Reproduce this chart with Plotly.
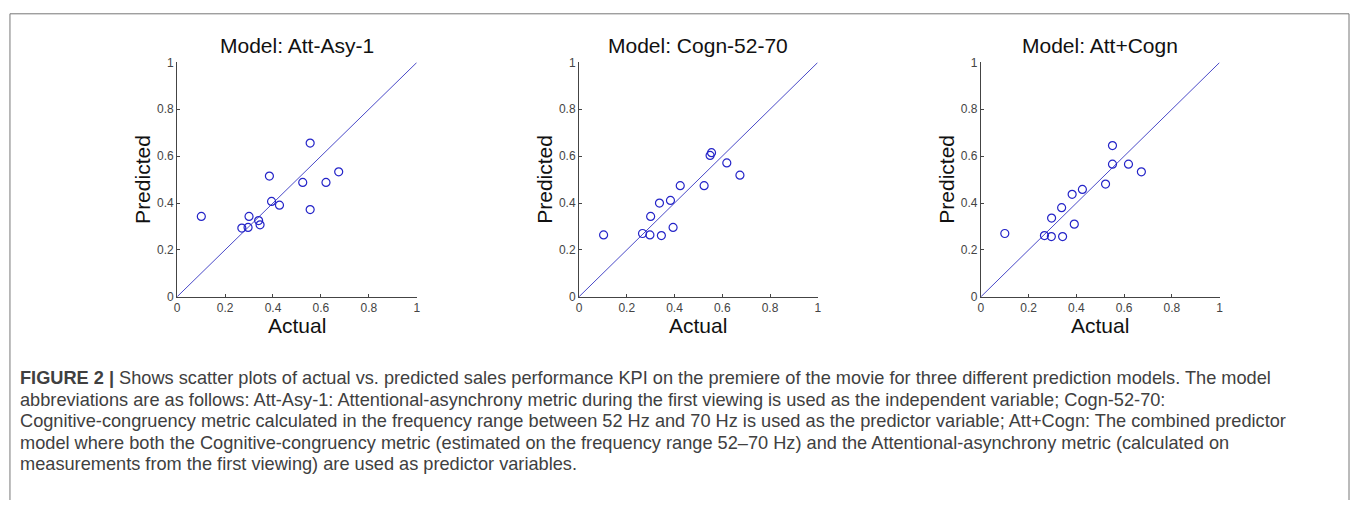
import plotly.graph_objects as go

W, H = 1356, 507

titles = ["Model: Att-Asy-1", "Model: Cogn-52-70", "Model: Att+Cogn"]

actual_1 = [0.101, 0.270, 0.296, 0.300, 0.340, 0.346, 0.385, 0.394, 0.427, 0.524, 0.555, 0.555, 0.621, 0.674]
pred_1 = [0.343, 0.293, 0.296, 0.343, 0.325, 0.307, 0.515, 0.407, 0.391, 0.488, 0.656, 0.372, 0.488, 0.533]

actual_2 = [0.103, 0.266, 0.297, 0.300, 0.337, 0.345, 0.383, 0.394, 0.424, 0.524, 0.549, 0.555, 0.619, 0.674]
pred_2 = [0.264, 0.270, 0.264, 0.343, 0.400, 0.261, 0.411, 0.296, 0.474, 0.474, 0.603, 0.615, 0.571, 0.519]

actual_3 = [0.100, 0.266, 0.295, 0.296, 0.338, 0.342, 0.382, 0.391, 0.425, 0.522, 0.551, 0.551, 0.618, 0.672]
pred_3 = [0.270, 0.261, 0.257, 0.336, 0.380, 0.257, 0.437, 0.310, 0.458, 0.481, 0.645, 0.566, 0.566, 0.533]

identity = [0, 1]
tick_vals = [0, 0.2, 0.4, 0.6, 0.8, 1]
tick_text = ["0", "0.2", "0.4", "0.6", "0.8", "1"]

caption_lines = [
    "<b>FIGURE 2 |</b> Shows scatter plots of actual vs. predicted sales performance KPI on the premiere of the movie for three different prediction models. The model",
    "abbreviations are as follows: Att-Asy-1: Attentional-asynchrony metric during the first viewing is used as the independent variable; Cogn-52-70:",
    "Cognitive-congruency metric calculated in the frequency range between 52 Hz and 70 Hz is used as the predictor variable; Att+Cogn: The combined predictor",
    "model where both the Cognitive-congruency metric (estimated on the frequency range 52\u201370 Hz) and the Attentional-asynchrony metric (calculated on",
    "measurements from the first viewing) are used as predictor variables.",
]

panels_px = [(175, 416), (579, 819), (983, 1223)]
top_px, bot_px = 57, 298

BLUE = "#2424c8"
fig = go.Figure()
series = [(actual_1, pred_1), (actual_2, pred_2), (actual_3, pred_3)]
for i, (ax, pr) in enumerate(series):
    n = "" if i == 0 else str(i + 1)
    fig.add_trace(go.Scatter(x=identity, y=identity, mode="lines",
                             line=dict(color="#4a4ac8", width=1),
                             xaxis="x" + n, yaxis="y" + n, showlegend=False, hoverinfo="skip"))
    fig.add_trace(go.Scatter(x=ax, y=pr, mode="markers",
                             marker=dict(symbol="circle-open", size=8, color=BLUE, line=dict(width=1.2)),
                             xaxis="x" + n, yaxis="y" + n, showlegend=False, cliponaxis=False))

layout = dict(
    width=W, height=H, margin=dict(l=0, r=0, t=0, b=0),
    paper_bgcolor="white", plot_bgcolor="white",
    font=dict(family="Liberation Sans, Arial, sans-serif", color="#333"),
)
axis_common = dict(range=[0, 1], showgrid=False, zeroline=False, showline=True,
                   linecolor="#444", linewidth=1, ticks="inside", ticklen=3,
                   tickcolor="#444", tickvals=tick_vals, ticktext=tick_text,
                   tickfont=dict(size=12, color="#444"), fixedrange=True)
annotations = []
for i, (x0, x1) in enumerate(panels_px):
    n = "" if i == 0 else str(i + 1)
    dx = [x0 / W, x1 / W]
    dy = [1 - bot_px / H, 1 - top_px / H]
    layout["xaxis" + n] = dict(axis_common, domain=dx, anchor="y" + n)
    layout["yaxis" + n] = dict(axis_common, domain=dy, anchor="x" + n)
    cx = (x0 + x1) / 2 / W
    annotations.append(dict(text=titles[i], x=cx, y=1 - 40 / H, xref="paper", yref="paper",
                            showarrow=False, font=dict(size=21, color="#111"),
                            xanchor="center", yanchor="middle"))
    annotations.append(dict(text="Actual", x=cx, y=1 - 328 / H, xref="paper", yref="paper",
                            showarrow=False, font=dict(size=21, color="#111"),
                            xanchor="center", yanchor="middle"))
    annotations.append(dict(text="Predicted", x=(x0 - 35) / W, y=1 - (top_px + bot_px) / 2 / H,
                            xref="paper", yref="paper", textangle=-90,
                            showarrow=False, font=dict(size=21, color="#111"),
                            xanchor="center", yanchor="middle"))

cap_y = [382, 404, 426, 448, 470]
for line, yy in zip(caption_lines, cap_y):
    annotations.append(dict(text=line, x=15 / W, y=1 - yy / H, xref="paper", yref="paper",
                            showarrow=False, xanchor="left", yanchor="middle",
                            font=dict(size=18.2, color="#404040", family="Liberation Sans, Arial, sans-serif")))

layout["annotations"] = annotations
bc = dict(color="#777", width=1)
layout["shapes"] = [
    dict(type="line", xref="paper", yref="paper", x0=7 / W, x1=1353 / W, y0=1 - 7 / H, y1=1 - 7 / H, line=bc),
    dict(type="line", xref="paper", yref="paper", x0=7 / W, x1=7 / W, y0=0, y1=1 - 7 / H, line=bc),
    dict(type="line", xref="paper", yref="paper", x0=1353 / W, x1=1353 / W, y0=0, y1=1 - 7 / H, line=bc),
]
fig.update_layout(**layout)
fig.write_html("out.html", config={"displayModeBar": False},
               post_script="document.body.style.margin='0px';document.body.style.overflow='hidden';")
